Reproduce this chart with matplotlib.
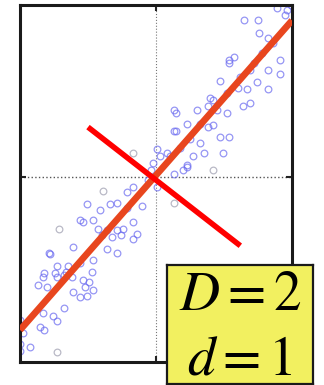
import matplotlib
matplotlib.use("Agg")
import matplotlib.pyplot as plt

# sample points (x, y) scattered about the principal direction
pts_x = [0.75, 0.89, 0.96, 0.99, 0.95, 0.76, 0.82, 0.86, 0.54, 0.57,
         0.62, 0.67, 0.74, 0.82, 0.91, 0.91, 0.82, 0.47, 0.30, 0.38,
         0.42, 0.23, 0.15, 0.13, 0.45, 0.52, 0.64, 0.69, 0.32, 0.38,
         0.47, 0.54, 0.32, 0.35, 0.49, 0.01, 0.03, 0.08, -0.02, -0.04,
         0.13, 0.20, 0.23, 0.54, 0.69, 0.52, 0.40, 0.13, 0.15, 0.42,
         0.25, 0.18, 0.27, 0.23, 0.65, 0.78, -0.21, -0.17, 0.01, -0.51,
         -0.41, -0.34, -0.29, -0.21, -0.10, -0.56, -0.46, -0.43, -0.36, -0.29,
         -0.24, -0.32, -0.26, -0.17, -0.14, -0.17, -0.54, -0.78, -0.61, -0.36,
         -0.29, -0.46, -0.56, -0.73, -0.65, -0.83, -0.87, -0.80, -0.73, -0.68,
         -0.62, -0.54, -0.49, -0.46, -0.61, -0.56, -0.51, -0.68, -0.76, -0.73,
         -0.83, -0.85, -0.98, -1.00, -0.93, -0.79, -0.74, -0.82, -0.47, -0.52,
         -0.82, -1.00, -1.00, -0.99, 0.10, -0.06, 0.60, 0.72, -0.40, -0.66]
pts_y = [0.91, 0.98, 0.97, 1.00, 0.94, 0.84, 0.81, 0.78, 0.68, 0.70,
         0.58, 0.51, 0.55, 0.62, 0.68, 0.60, 0.51, 0.56, 0.39, 0.41,
         0.45, 0.31, 0.37, 0.27, 0.39, 0.37, 0.41, 0.43, 0.31, 0.29,
         0.23, 0.23, 0.20, 0.14, 0.14, 0.16, 0.12, 0.14, 0.08, 0.04,
         0.02, 0.04, 0.07, 0.66, 0.62, 0.49, 0.46, 0.39, 0.27, 0.30,
         0.22, 0.17, 0.12, 0.06, 0.91, 0.72, -0.09, -0.06, -0.06, -0.16,
         -0.19, -0.16, -0.15, -0.18, -0.17, -0.25, -0.25, -0.30, -0.31, -0.31,
         -0.30, -0.35, -0.34, -0.26, -0.33, -0.36, -0.26, -0.45, -0.41, -0.42,
         -0.44, -0.48, -0.50, -0.52, -0.52, -0.58, -0.63, -0.64, -0.58, -0.57,
         -0.58, -0.60, -0.61, -0.66, -0.67, -0.70, -0.69, -0.76, -0.81, -0.84,
         -0.79, -0.87, -0.91, -0.97, -0.99, -0.44, -0.56, -0.56, -0.55, -0.64,
         -0.89, -1.01, -0.83, -0.86, 0.12, -0.02, 0.52, 0.66, -0.34, -0.55]

# a few faint, greyish samples
grey_x = [0.42, -0.17, -0.39, 0.13, -0.71, -0.73]
grey_y = [0.04, 0.14, -0.08, -0.15, -0.30, -1.02]

# principal direction (fit) and the orthogonal direction
fit_x = [-1.0, 1.0]
fit_y = [-0.89, 0.91]
orth_x = [-0.50, 0.62]
orth_y = [0.29, -0.40]

box_lines = ["$D=2$", "$d=1$"]

plt.rcParams["mathtext.fontset"] = "stix"

fig = plt.figure(figsize=(3.24, 3.85), dpi=100)
ax = fig.add_axes([20 / 324, 23 / 385, 272 / 324, 357 / 385])
ax.set_xlim(-1.0, 1.0)
ax.set_ylim(-1.076, 1.0)

ax.axvline(0, color="#777777", lw=0.8, ls=":", zorder=1)
ax.axhline(0, color="#555555", lw=1.0, ls=":", zorder=1)

ax.plot(grey_x, grey_y, "o", mfc="none", mec="#a8a8b8", ms=4.8, mew=0.9,
        alpha=0.8, zorder=2)
ax.plot(pts_x, pts_y, "o", mfc="none", mec="#6a6af0", ms=4.8, mew=0.9,
        alpha=0.7, zorder=2)

ax.plot(fit_x, fit_y, color="#e8461e", lw=4.8, solid_capstyle="butt", zorder=3)
ax.plot(orth_x, orth_y, color="#ff0000", lw=4.0, solid_capstyle="butt", zorder=4)

ax.set_xticks([0])
ax.set_yticks([0])
ax.tick_params(direction="in", top=True, right=True, length=4, width=1.5,
               labelbottom=False, labelleft=False, color="#222222")
for s in ax.spines.values():
    s.set_linewidth(2.2)
    s.set_color("#1a1a1a")

# dimension label box
bx = fig.add_axes([167 / 324, 1 / 385, 146 / 324, 119 / 385])
bx.set_facecolor("#f2f060")
bx.set_xticks([])
bx.set_yticks([])
for s in bx.spines.values():
    s.set_linewidth(1.6)
    s.set_color("#1a1a1a")
bx.text(0.5, 0.75, box_lines[0], ha="center", va="center", fontsize=40,
        transform=bx.transAxes)
bx.text(0.5, 0.21, box_lines[1], ha="center", va="center", fontsize=40,
        transform=bx.transAxes)

fig.savefig("out.png", dpi=100)
